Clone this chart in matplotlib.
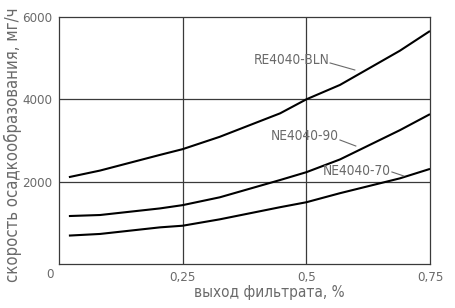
import matplotlib
matplotlib.use("Agg")
import matplotlib.pyplot as plt

# Data
x_vals = [0.02, 0.083, 0.204, 0.25, 0.325, 0.447, 0.5, 0.568, 0.689, 0.75]
re4040_bln = [2110, 2270, 2650, 2790, 3090, 3660, 4000, 4350, 5180, 5660]
ne4040_90 = [1165, 1190, 1350, 1430, 1620, 2040, 2230, 2540, 3250, 3640]
ne4040_70 = [690, 730, 890, 930, 1085, 1380, 1500, 1720, 2080, 2310]

x_ticks = [0.25, 0.5, 0.75]
x_ticklabels = ["0,25", "0,5", "0,75"]
y_ticks = [2000, 4000, 6000]
y_ticklabels = ["2000", "4000", "6000"]

labels = ["RE4040-BLN", "NE4040-90", "NE4040-70"]

FONT = ["DejaVu Sans"]
ST = "condensed"
TXT = "#6a6a6a"
GRID = "#3a3a3a"

fig = plt.figure(figsize=(4.56, 3.08), dpi=100)
ax = fig.add_axes([59/456, 44/308, 371/456, 247/308])
ax.set_xlim(0, 0.75)
ax.set_ylim(0, 6000)

for v in [0.25, 0.5]:
    ax.axvline(v, color=GRID, lw=0.9, zorder=1)
for v in [2000, 4000]:
    ax.axhline(v, color=GRID, lw=0.9, zorder=1)
for s in ax.spines.values():
    s.set_color(GRID)
    s.set_linewidth(0.9)

for ys in [re4040_bln, ne4040_90, ne4040_70]:
    ax.plot(x_vals, ys, color="black", lw=1.5, zorder=3, solid_capstyle="butt")

ax.set_xticks(x_ticks)
ax.set_xticklabels(x_ticklabels)
ax.set_yticks(y_ticks)
ax.set_yticklabels(y_ticklabels)
ax.tick_params(length=0, pad=5, labelsize=9.5, labelcolor=TXT)
for t in ax.get_xticklabels() + ax.get_yticklabels():
    t.set_family(FONT)
    t.set_stretch(ST)

fig.text(50/456, 1 - 275/308, "0", ha="center", va="center", fontsize=9.5,
         color=TXT, family=FONT, stretch=ST)
fig.text(269/456, 1 - 293/308, "выход фильтрата, %", ha="center", va="center",
         fontsize=11, color=TXT, family=FONT, stretch=ST)
fig.text(13/456, 1 - 145/308, "скорость осадкообразования, мг/ч", ha="center",
         va="center", rotation=90, fontsize=12, color=TXT, family=FONT, stretch=ST)

# Curve annotations with leader lines
ann = [
    (labels[0], 0.394, 4955, (0.548, 0.598), (4883, 4713)),
    (labels[1], 0.4286, 3109, (0.568, 0.600), (3012, 2866)),
    (labels[2], 0.534, 2259, (0.673, 0.697), (2235, 2138)),
]
for text, tx, ty, lx, ly in ann:
    ax.text(tx, ty, text, ha="left", va="center", fontsize=9.8, color=TXT,
            family=FONT, stretch=ST, zorder=4)
    ax.plot(lx, ly, color=TXT, lw=0.8, zorder=4)

fig.savefig("out.png", dpi=100)
